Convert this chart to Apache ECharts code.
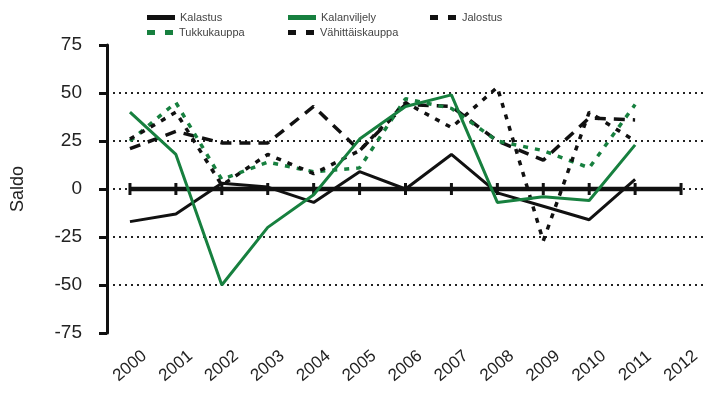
<!DOCTYPE html>
<html>
<head>
<meta charset="utf-8">
<script src="https://cdn.jsdelivr.net/npm/echarts@6/dist/echarts.min.js"></script>
<style>
  html, body { margin: 0; padding: 0; background: #fff; }
  #main { width: 710px; height: 402px; }
</style>
</head>
<body>
<div id="main"></div>
<script>
var years = ['2000', '2001', '2002', '2003', '2004', '2005', '2006', '2007', '2008', '2009', '2010', '2011', '2012']

// saldoluvut, luettu kuvasta
var kalastus = [-17, -13, 3, 1, -7, 9, 0, 18, -2, -9, -16, 5, null]
var kalanviljely = [40, 18, -50, -20, -3, 26, 43, 49, -7, -4, -6, 23, null]
var jalostus = [21, 30, 24, 24, 43, 20, 44, 43, 25, 15, 37, 36, null]
var tukkukauppa = [25, 45, 5, 14, 9, 11, 47, 42, 25, 20, 11, 44, null]
var vahittaiskauppa = [26, 40, 2, 18, 8, 20, 45, 32, 53, -27, 40, 25, null]
var nollaviiva = [0, 0, 0, 0, 0, 0, 0, 0, 0, 0, 0, 0, 0]

var yTicks = { min: -75, max: 75, interval: 25 }

var green = '#17803f'
var solidIcon = 'path://M0,0H28V5H0Z'
var dashIcon = 'path://M0,0H8V5H0Z M18,0H26V5H18Z'
var myChart = echarts.init(document.getElementById('main'))

function legendAt (name, left, top, icon) {
  return {
    data: [name],
    left: left,
    top: top,
    itemWidth: 28,
    itemHeight: 5,
    icon: icon,
    textStyle: { color: '#444', fontSize: 11, fontFamily: 'Liberation Sans' }
  }
}

var option = {
  backgroundColor: '#fff',
  animation: false,
  textStyle: { fontFamily: 'Liberation Sans' },
  legend: [
    legendAt('Kalastus', 142, 7, solidIcon),
    legendAt('Kalanviljely', 283, 7, solidIcon),
    legendAt('Jalostus', 425, 7, dashIcon),
    legendAt('Tukkukauppa', 142, 22, dashIcon),
    legendAt('Vähittäiskauppa', 283, 22, dashIcon)
  ],
  grid: { left: 107, right: 6, top: 45, bottom: 69 },
  xAxis: {
    type: 'category',
    data: years,
    boundaryGap: true,
    axisLine: { show: false },
    axisTick: { show: false },
    axisLabel: {
      rotate: 40,
      align: 'center',
      verticalAlign: 'middle',
      margin: 33,
      fontSize: 17,
      color: '#222'
    }
  },
  yAxis: {
    type: 'value',
    min: yTicks.min,
    max: yTicks.max,
    interval: yTicks.interval,
    name: 'Saldo',
    nameLocation: 'middle',
    nameGap: 80,
    nameTextStyle: { fontSize: 18, color: '#222' },
    axisLine: { show: true, lineStyle: { color: '#111', width: 3 } },
    axisTick: { show: true, length: 8, lineStyle: { color: '#111', width: 3 } },
    axisLabel: { margin: 25, fontSize: 19, color: '#222' },
    splitLine: {
      show: true,
      showMinLine: false,
      showMaxLine: false,
      lineStyle: { color: '#222', width: 2, type: [2, 4] }
    }
  },
  series: [
    {
      name: 'nolla',
      type: 'line',
      data: nollaviiva,
      symbol: 'rect',
      symbolSize: [3, 12],
      itemStyle: { color: '#111' },
      lineStyle: { color: '#111', width: 4.5 },
      z: 1
    },
    {
      name: 'Kalastus',
      type: 'line',
      data: kalastus,
      symbol: 'none',
      itemStyle: { color: '#111' },
      lineStyle: { color: '#111', width: 3 },
      z: 3
    },
    {
      name: 'Kalanviljely',
      type: 'line',
      data: kalanviljely,
      symbol: 'none',
      itemStyle: { color: green },
      lineStyle: { color: green, width: 3 },
      z: 4
    },
    {
      name: 'Jalostus',
      type: 'line',
      data: jalostus,
      symbol: 'none',
      itemStyle: { color: '#111' },
      lineStyle: { color: '#111', width: 3.5, type: [11, 8] },
      z: 2
    },
    {
      name: 'Tukkukauppa',
      type: 'line',
      data: tukkukauppa,
      symbol: 'none',
      itemStyle: { color: green },
      lineStyle: { color: green, width: 3.5, type: [5, 7] },
      z: 2
    },
    {
      name: 'Vähittäiskauppa',
      type: 'line',
      data: vahittaiskauppa,
      symbol: 'none',
      itemStyle: { color: '#111' },
      lineStyle: { color: '#111', width: 3.5, type: [5, 7] },
      z: 2
    }
  ]
}
myChart.setOption(option)
</script>
</body>
</html>
